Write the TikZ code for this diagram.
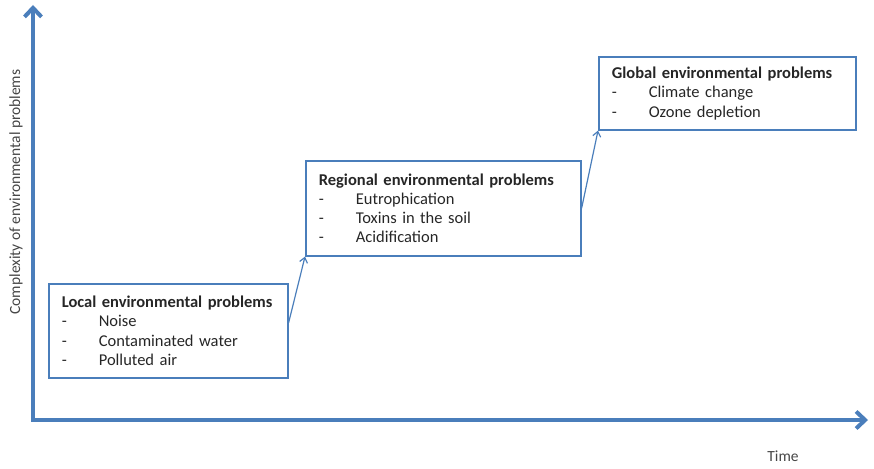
\documentclass[tikz,border=0pt]{standalone}
\usepackage{fontspec}
\setmainfont{Carlito}
\usepackage{tikz}
\usetikzlibrary{arrows.meta}
\usetikzlibrary{positioning}
\definecolor{axisblue}{RGB}{74,126,187}
\definecolor{textgray}{RGB}{38,38,38}
\definecolor{labelgray}{RGB}{70,70,70}
\newcommand{\probitem}[1]{\makebox[37pt][l]{-}#1}
\tikzset{
	axis/.style = {draw = axisblue, line width = 4pt, line join = miter, {Straight Barb[length = 9pt, width = 17pt]}-{Straight Barb[length = 9pt, width = 17pt]}},
	probbox/.style = {draw = axisblue, line width = 1.6pt, anchor = north west, align = left, inner xsep = 13pt, text = textgray, font = \fontsize{16.5}{19.3}\selectfont},
	conn/.style = {draw = axisblue, line width = 1.2pt, -{Straight Barb[length = 5pt, width = 8pt]}},
	axislabel/.style = {text = labelgray, font = \fontsize{15.5}{18}\selectfont}
}

\begin{document}
\begin{tikzpicture}[x = 1pt, y = -1pt]
	\useasboundingbox (0,0) rectangle (874,468);

	\coordinate (ytip) at (33,5);
	\coordinate (origin) at (33,420);
	\coordinate (xtip) at (868,420);
	\draw[axis] (ytip) -- (origin) -- (xtip);

	\node[axislabel, rotate = 90] (ylabel) at (16,192) {Complexity of environmental problems};
	\node[axislabel] (xlabel) at (783,456) {Time};

	\node[probbox, text width = 213pt, minimum height = 94pt] (local) at (48,283) {\textbf{Local environmental problems}\\
		\probitem{Noise}\\
		\probitem{Contaminated water}\\
		\probitem{Polluted air}};

	\node[probbox, text width = 249pt, minimum height = 95pt] (regional) at (305,160) {\textbf{Regional environmental problems}\\
		\probitem{Eutrophication}\\
		\probitem{Toxins in the soil}\\
		\probitem{Acidification}};

	\node[probbox, text width = 231pt, minimum height = 73pt] (global) at (598,56) {\textbf{Global environmental problems}\\
		\probitem{Climate change}\\
		\probitem{Ozone depletion}};

	\draw[conn] ([yshift = 8pt]local.east) -- (regional.south west);
	\draw[conn] (regional.east) -- (global.south west);
\end{tikzpicture}
\end{document}
